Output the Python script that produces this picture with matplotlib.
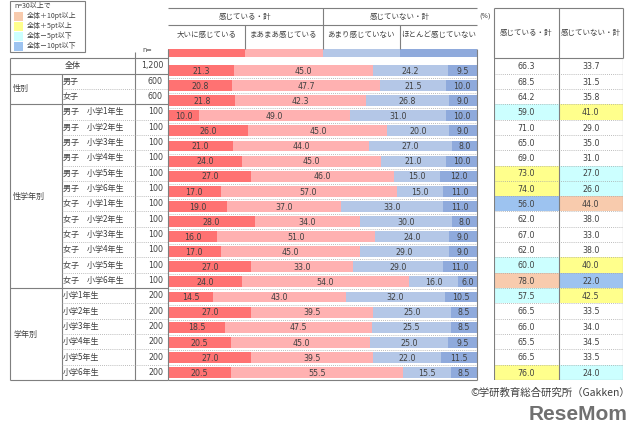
import matplotlib
matplotlib.use("Agg")
import matplotlib.pyplot as plt
import numpy as np
from matplotlib.patches import Rectangle

plt.rcParams['font.family'] = ['Noto Sans CJK JP', 'DejaVu Sans']

# ---------------- data ----------------
groups = ["全体", "性別", "性学年別", "学年別"]
group_rows = [(0, 1), (1, 3), (3, 15), (15, 21)]
row_labels = ["全体", "男子", "女子",
              "男子　小学1年生", "男子　小学2年生", "男子　小学3年生",
              "男子　小学4年生", "男子　小学5年生", "男子　小学6年生",
              "女子　小学1年生", "女子　小学2年生", "女子　小学3年生",
              "女子　小学4年生", "女子　小学5年生", "女子　小学6年生",
              "小学1年生", "小学2年生", "小学3年生", "小学4年生", "小学5年生", "小学6年生"]
n_values = [1200, 600, 600] + [100] * 12 + [200] * 6
series_names = ["大いに感じている", "まあまあ感じている", "あまり感じていない", "ほとんど感じていない"]
very = [21.3, 20.8, 21.8, 10.0, 26.0, 21.0, 24.0, 27.0, 17.0, 19.0, 28.0, 16.0, 17.0, 27.0, 24.0,
        14.5, 27.0, 18.5, 20.5, 27.0, 20.5]
somewhat = [45.0, 47.7, 42.3, 49.0, 45.0, 44.0, 45.0, 46.0, 57.0, 37.0, 34.0, 51.0, 45.0, 33.0, 54.0,
            43.0, 39.5, 47.5, 45.0, 39.5, 55.5]
not_much = [24.2, 21.5, 26.8, 31.0, 20.0, 27.0, 21.0, 15.0, 15.0, 33.0, 30.0, 24.0, 29.0, 29.0, 16.0,
            32.0, 25.0, 25.5, 25.0, 22.0, 15.5]
hardly = [9.5, 10.0, 9.0, 10.0, 9.0, 8.0, 10.0, 12.0, 11.0, 11.0, 8.0, 9.0, 9.0, 11.0, 6.0,
          10.5, 8.5, 8.5, 9.5, 11.5, 8.5]
total_yes = [66.3, 68.5, 64.2, 59.0, 71.0, 65.0, 69.0, 73.0, 74.0, 56.0, 62.0, 67.0, 62.0, 60.0, 78.0,
             57.5, 66.5, 66.0, 65.5, 66.5, 76.0]
total_no = [33.7, 31.5, 35.8, 41.0, 29.0, 35.0, 31.0, 27.0, 26.0, 44.0, 38.0, 33.0, 38.0, 40.0, 22.0,
            42.5, 33.5, 34.0, 34.5, 33.5, 24.0]
header_top = ["感じている・計", "感じていない・計"]
legend_labels = ["全体＋10pt以上", "全体＋5pt以上", "全体－5pt以下", "全体－10pt以下"]

# ---------------- style ----------------
W, H = 640, 438
seg_colors = ["#FF7272", "#FFB1B1", "#B4C7E7", "#8FAADC"]
hl_colors = ["#F8CBAD", "#FFFF8C", "#CCFFFF", "#9DC3F0"]
txt_col = "#404040"
line_col = "#7F7F7F"
dot_col = "#A6A6A6"

fig = plt.figure(figsize=(6.4, 4.38), dpi=100)
fig.patch.set_facecolor("white")


def rect(x0, y0, x1, y1):
    return [x0 / W, 1 - y1 / H, (x1 - x0) / W, (y1 - y0) / H]


nrows = len(row_labels)
ypos = np.arange(nrows)

# ---------------- bars ----------------
axb = fig.add_axes(rect(168, 63, 477, 380))
data = np.array([very, somewhat, not_much, hardly])
left = np.zeros(nrows)
for k in range(4):
    axb.barh(ypos, data[k], left=left, height=0.72, color=seg_colors[k], edgecolor="none", zorder=2)
    for i in range(nrows):
        axb.text(left[i] + data[k][i] / 2, ypos[i] + 0.05, f"{data[k][i]:.1f}", ha="center", va="center",
                 fontsize=5.7, color=txt_col, family="DejaVu Sans", zorder=3)
    left += data[k]
for i in range(nrows - 1):
    axb.axhline(i + 0.5, color=dot_col, lw=0.6, ls=(0, (1, 1.5)), zorder=1)
axb.set_xlim(0, 100)
axb.set_ylim(nrows - 0.5, -0.5)
axb.axis("off")

# ---------------- right table ----------------
axr = fig.add_axes(rect(494, 58.3, 623, 380))
base_yes, base_no = total_yes[0], total_no[0]


def hl(v, base, n):
    d = v - base
    if n < 30:
        return "white"
    if d >= 10:
        return hl_colors[0]
    if d >= 5:
        return hl_colors[1]
    if d <= -10:
        return hl_colors[3]
    if d <= -5:
        return hl_colors[2]
    return "white"


for j, (vals, base) in enumerate([(total_yes, base_yes), (total_no, base_no)]):
    cols = [hl(v, base, n) if i > 0 else "white" for i, (v, n) in enumerate(zip(vals, n_values))]
    axr.barh(ypos, 1, left=j, height=1.0, color=cols, edgecolor="none", zorder=1)
    for i, v in enumerate(vals):
        axr.text(j + 0.5, i + 0.05, f"{v:.1f}", ha="center", va="center", fontsize=5.7,
                 color=txt_col, family="DejaVu Sans", zorder=3)
for i in range(nrows - 1):
    axr.axhline(i + 0.5, color=dot_col, lw=0.6, ls=(0, (1, 1.5)), zorder=2)
for xv in (0, 1, 2):
    axr.axvline(xv, color=line_col, lw=0.8, zorder=4)
axr.axhline(nrows - 0.5, color=line_col, lw=0.8, zorder=4)
axr.set_xlim(0, 2)
axr.set_ylim(nrows - 0.5, -0.5)
axr.axis("off")

# ---------------- overlay (tables, headers, legend) ----------------
ov = fig.add_axes([0, 0, 1, 1])
ov.set_xlim(0, W)
ov.set_ylim(H, 0)
ov.axis("off")

row_h = (380 - 58.3) / nrows


def ry(i):
    return 58.3 + i * row_h


def hline(y, x0, x1, dotted=False, c=None, lw=0.8):
    ov.plot([x0, x1], [y, y], color=c or (dot_col if dotted else line_col), lw=0.6 if dotted else lw,
            ls=(0, (1, 1.5)) if dotted else "-", solid_capstyle="butt")


def vline(x, y0, y1, c=None, lw=0.8):
    ov.plot([x, x], [y0, y1], color=c or line_col, lw=lw, solid_capstyle="butt")


# left table
fs = 5.8
hline(57.5, 10, 168)
vline(10, 57.5, 380)
vline(135, 52, 380)
vline(168, 49, 380)
vline(62, ry(1), 380)
for i in range(1, nrows + 1):
    if i in (1, 3, 15, 21):
        hline(ry(i), 10, 168)
    else:
        hline(ry(i), 62, 168, dotted=True)
for i in range(nrows):
    yc = ry(i) + row_h / 2
    if i == 0:
        ov.text(72.5, yc, row_labels[i], ha="center", va="center", fontsize=fs, color=txt_col)
    else:
        ov.text(63, yc, row_labels[i], ha="left", va="center", fontsize=fs, color=txt_col)
    ov.text(163, yc, f"{n_values[i]:,}", ha="right", va="center", fontsize=5.7, color=txt_col,
            family="DejaVu Sans")
for g, (a, b) in zip(groups[1:], group_rows[1:]):
    ov.text(13, (ry(a) + ry(b)) / 2, g, ha="left", va="center", fontsize=fs, color=txt_col)
ov.text(147, 50.5, "n=", ha="center", va="center", fontsize=4.8, color=txt_col, family="DejaVu Sans")

# bar area border
vline(477, 49, 380)
hline(380, 168, 477)

# bar header
hline(8, 168, 477)
hline(25, 168, 477)
vline(323, 8, 49)
vline(245, 25, 49)
vline(400, 25, 49)
xs = [168, 245.25, 322.5, 399.75, 477]
for k in range(4):
    ov.add_patch(Rectangle((xs[k], 49), xs[k + 1] - xs[k], 8.3, color=seg_colors[k], lw=0))
    ov.text((xs[k] + xs[k + 1]) / 2, 35, series_names[k], ha="center", va="center", fontsize=5.4,
            color=txt_col)
ov.text((168 + 322.5) / 2, 16.5, header_top[0], ha="center", va="center", fontsize=5.4, color=txt_col)
ov.text((322.5 + 477) / 2, 16.5, header_top[1], ha="center", va="center", fontsize=5.4, color=txt_col)
ov.text(485, 15.5, "(%)", ha="center", va="center", fontsize=4.8, color=txt_col, family="DejaVu Sans")

# right table header
hline(8, 494, 623)
hline(57.5, 494, 623)
vline(494, 8, 58.3)
vline(559, 8, 58.3)
vline(623, 8, 58.3)
ov.text((494 + 559) / 2, 33, header_top[0], ha="center", va="center", fontsize=5.4, color=txt_col)
ov.text((559 + 623) / 2, 33, header_top[1], ha="center", va="center", fontsize=5.4, color=txt_col)

# legend box
ov.add_patch(Rectangle((10, 1), 75, 51, fill=False, edgecolor=line_col, lw=0.8))
ov.text(14, 6, "n=30以上で", ha="left", va="center", fontsize=5.0, color=txt_col)
for k, lab in enumerate(legend_labels):
    y0 = 12 + k * 10
    ov.add_patch(Rectangle((14, y0), 9, 8.5, color=hl_colors[k], lw=0))
    ov.text(27, y0 + 4.3, lab, ha="left", va="center", fontsize=5.0, color=txt_col)

# credits
ov.text(630, 393, "©学研教育総合研究所（Gakken）", ha="right", va="center", fontsize=7.5, color="#404040")
ov.text(627, 415, "ReseMom", ha="right", va="center", fontsize=15, fontweight="bold",
        color="#707070", family="Liberation Sans")

fig.savefig("out.png", dpi=100, facecolor="white")
